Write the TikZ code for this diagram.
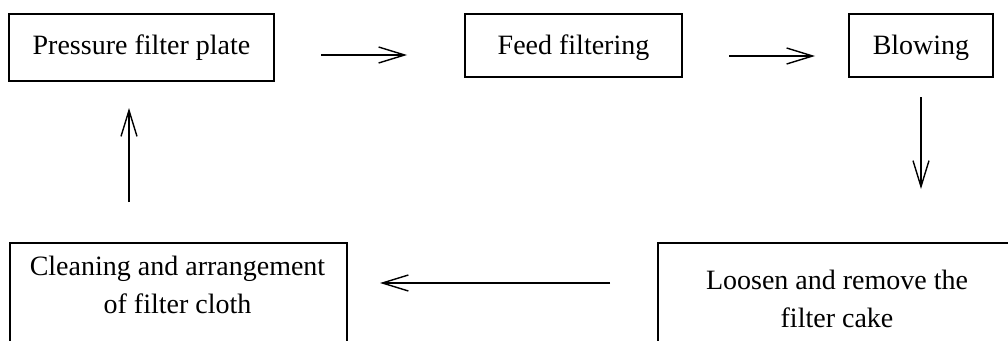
\documentclass[tikz,border=0pt]{standalone}
\usepackage{fontspec}
\setmainfont{Liberation Serif}
\usetikzlibrary{arrows.meta}
\tikzset{
  stepbox/.style={draw, line width=1.5pt, inner sep=0pt, align=center},
  flow/.style={line width=1.4pt, -{Straight Barb[length=26pt,width=16pt,line width=1.4pt]}},
  lbl/.style={inner sep=0pt, align=center}
}
\begin{document}
\begin{tikzpicture}[x=1pt,y=-1pt,font=\fontsize{28}{38}\selectfont]
\clip (0,0) rectangle (1008,340);
% top row
\node[stepbox, minimum width=265pt, minimum height=67pt] (b1) at (141.5,47.5) {Pressure filter plate};
\node[stepbox, minimum width=217pt, minimum height=63pt, text depth=2pt] (b2) at (573.5,45.5) {Feed filtering};
\node[stepbox, minimum width=144pt, minimum height=63pt, text depth=2pt] (b3) at (921,45.5) {Blowing};
% bottom row (boxes run past the lower edge)
\node[stepbox, minimum width=337pt, minimum height=200pt, anchor=north west] (b4) at (9,242) {};
\node[lbl] (t4) at (177.5,285) {Cleaning and arrangement\\ of filter cloth};
\node[stepbox, minimum width=420pt, minimum height=200pt, anchor=north west] (b5) at (657,242) {};
\node[lbl] (t5) at (837,299) {Loosen and remove the\\ filter cake};
% arrow end points
\coordinate (a1s) at (321,55);  \coordinate (a1e) at (407,55);
\coordinate (a2s) at (729,56);  \coordinate (a2e) at (815,56);
\coordinate (a3s) at (921,97);  \coordinate (a3e) at (921,189);
\coordinate (a4s) at (610,283); \coordinate (a4e) at (380,283);
\coordinate (a5s) at (129,202); \coordinate (a5e) at (129,108);
\draw[flow] (a1s) -- (a1e);
\draw[flow] (a2s) -- (a2e);
\draw[flow] (a3s) -- (a3e);
\draw[flow] (a4s) -- (a4e);
\draw[flow] (a5s) -- (a5e);
\end{tikzpicture}
\end{document}
